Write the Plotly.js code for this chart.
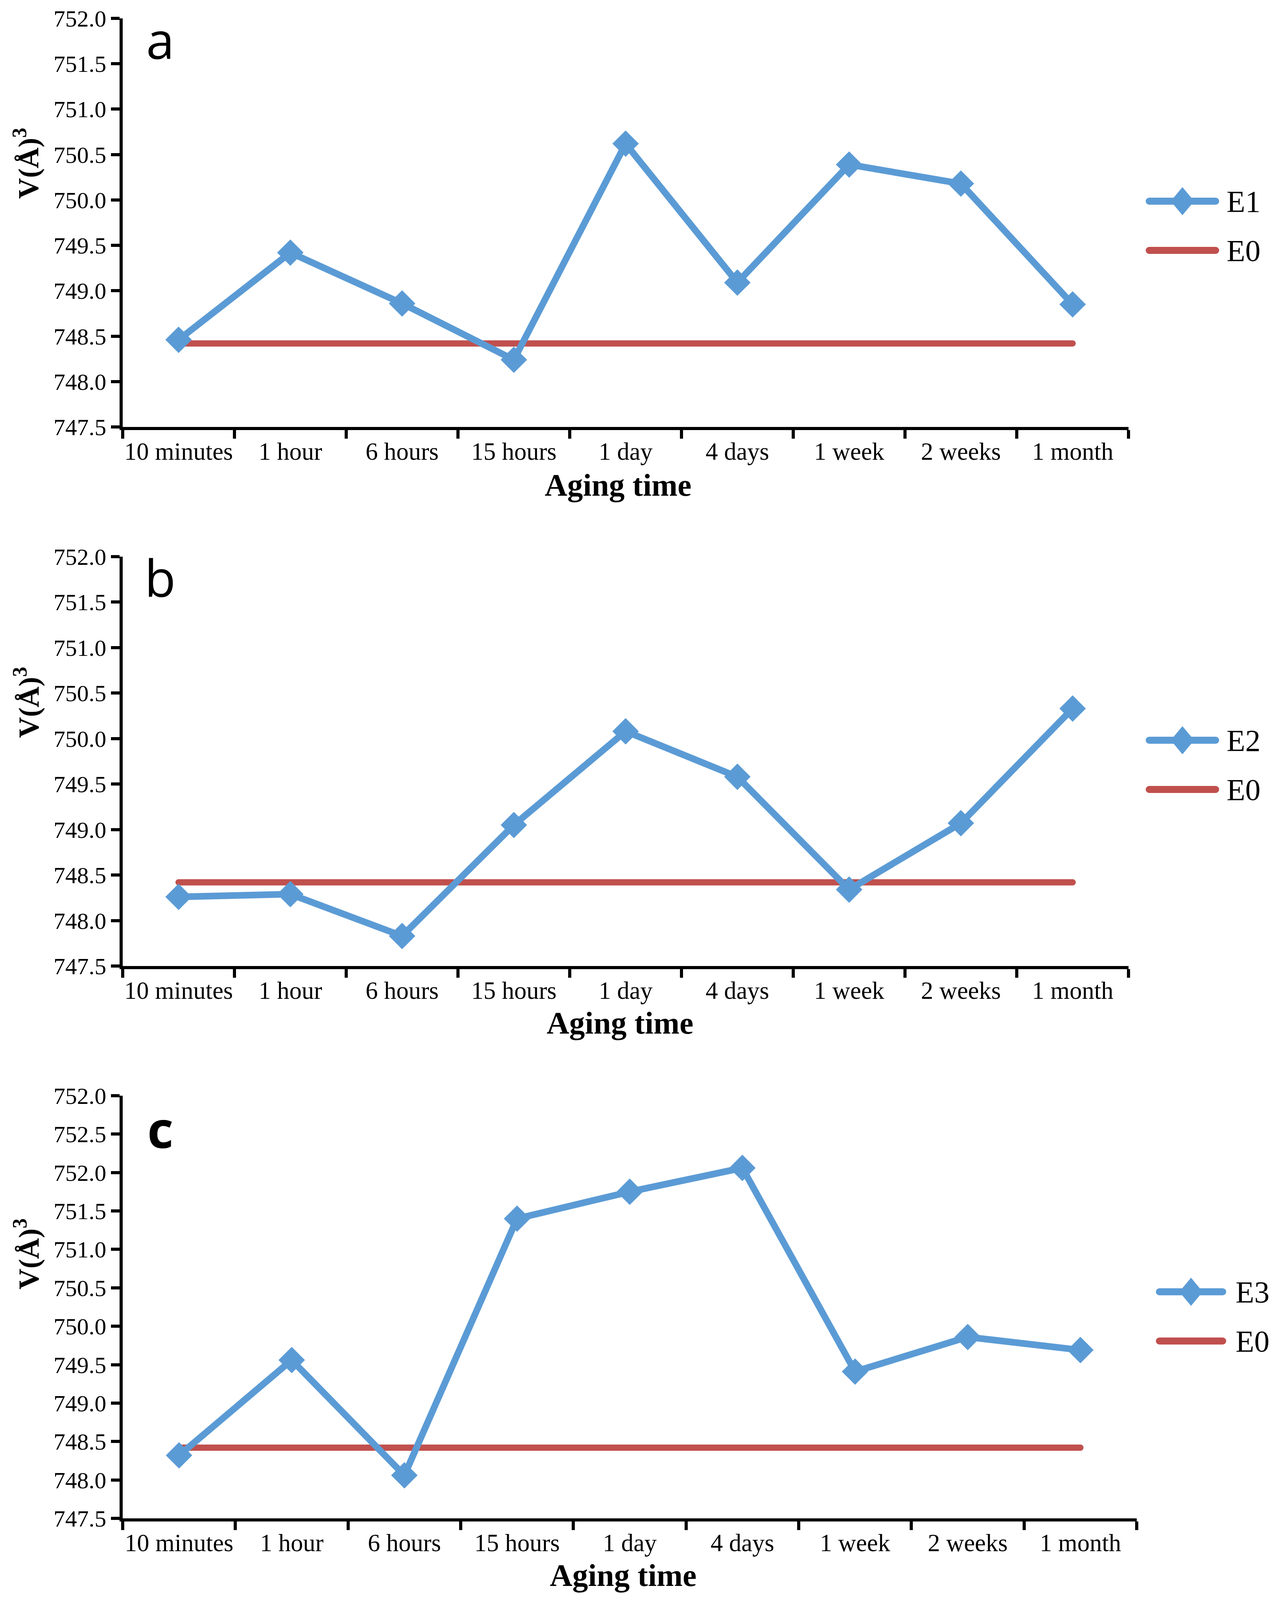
<!DOCTYPE html>
<html>
<head>
<meta charset="utf-8">
<script src="https://cdn.plot.ly/plotly-3.0.1.min.js"></script>
<style>
  html, body { margin: 0; padding: 0; background: #fff; }
  #plot { width: 3268px; height: 4097px; }
  #plot path.js-line { stroke-linecap: round; stroke-linejoin: round; }
  #plot .shapelayer path { stroke-linecap: round; }
</style>
</head>
<body>
<div id="plot"></div>
<script>
// Unit-cell volume vs aging time, three panels (E1, E2, E3) against E0.
const agingTimes = ["10 minutes", "1 hour", "6 hours", "15 hours", "1 day",
  "4 days", "1 week", "2 weeks", "1 month"];

const E1 = [748.46, 749.42, 748.86, 748.24, 750.62, 749.09, 750.39, 750.18, 748.85];
const E2 = [748.26, 748.29, 747.83, 749.05, 750.08, 749.58, 748.34, 749.07, 750.33];
const E3 = [748.32, 749.56, 748.06, 751.40, 751.75, 752.06, 749.41, 749.86, 749.69];
const E0 = [748.42, 748.42, 748.42, 748.42, 748.42, 748.42, 748.42, 748.42, 748.42];

const yTicksAB = [747.5, 748.0, 748.5, 749.0, 749.5, 750.0, 750.5, 751.0, 751.5, 752.0];
const yTextAB = ["747.5", "748.0", "748.5", "749.0", "749.5", "750.0", "750.5",
  "751.0", "751.5", "752.0"];
const yTicksC = [747.5, 748.0, 748.5, 749.0, 749.5, 750.0, 750.5, 751.0, 751.5,
  752.0, 752.5, 753.0];
// the top label really reads 752.0 in the original figure
const yTextC = ["747.5", "748.0", "748.5", "749.0", "749.5", "750.0", "750.5",
  "751.0", "751.5", "752.0", "752.5", "752.0"];

const BLUE = "#5b9bd5";
const RED = "#c0504d";
const SERIF = "Liberation Serif, Times New Roman, serif";
const W = 3268, H = 4097;
const px = (x) => x / W;
const py = (y) => 1 - y / H;

const panels = [
  { name: "E1", vals: E1, top: 47, bottom: 1093, right: 2888, label: "a",
    range: [747.5, 752.0], tv: yTicksAB, tt: yTextAB,
    labelY: 100, vTitleY: 418, aTitleY: 1242, legY: 515,
    legX0: 2941, legX1: 3111, legText: 3137, aTitleX: 1582 },
  { name: "E2", vals: E2, top: 1425, bottom: 2473, right: 2888, label: "b",
    range: [747.5, 752.0], tv: yTicksAB, tt: yTextAB,
    labelY: 1477, vTitleY: 1798, aTitleY: 2619, legY: 1895,
    legX0: 2941, legX1: 3111, legText: 3137, aTitleX: 1587 },
  { name: "E3", vals: E3, top: 2805, bottom: 3887, right: 2909, label: "c",
    range: [747.5, 753.0], tv: yTicksC, tt: yTextC,
    labelY: 2888, vTitleY: 3210, aTitleY: 4033, legY: 3307,
    legX0: 2967, legX1: 3129, legText: 3160, aTitleX: 1595 },
];

const traces = [];
const layout = {
  width: W, height: H, autosize: false,
  margin: { l: 0, r: 0, t: 0, b: 0 },
  paper_bgcolor: "#fff", plot_bgcolor: "#fff",
  showlegend: false,
  font: { family: SERIF, color: "#000" },
  annotations: [], shapes: [],
};

panels.forEach((p, k) => {
  const n = k === 0 ? "" : String(k + 1);
  const xa = "x" + n, ya = "y" + n;

  traces.push({
    type: "scatter", mode: "lines", x: agingTimes, y: E0, name: "E0",
    line: { color: RED, width: 16 }, xaxis: xa, yaxis: ya, cliponaxis: false,
  });
  traces.push({
    type: "scatter", mode: "lines+markers", x: agingTimes, y: p.vals, name: p.name,
    line: { color: BLUE, width: 17 },
    marker: { symbol: "diamond", size: 52, color: BLUE },
    xaxis: xa, yaxis: ya, cliponaxis: false,
  });

  layout["xaxis" + n] = {
    domain: [px(314), px(p.right)], anchor: ya,
    type: "category", categoryorder: "array", categoryarray: agingTimes,
    range: [-0.5, 8.5], tickson: "boundaries", tickangle: 0,
    ticks: "outside", ticklen: 22, tickwidth: 8, tickcolor: "#000",
    showline: true, linewidth: 8, linecolor: "#000",
    showgrid: false, zeroline: false, fixedrange: true,
    tickfont: { family: SERIF, size: 63, color: "#000" },
  };
  layout["yaxis" + n] = {
    domain: [py(p.bottom), py(p.top)], anchor: xa,
    range: p.range, tickmode: "array", tickvals: p.tv, ticktext: p.tt,
    ticks: "outside", ticklen: 22, tickwidth: 8, tickcolor: "#000",
    showline: true, linewidth: 8, linecolor: "#000",
    showgrid: false, zeroline: false, fixedrange: true,
    tickfont: { family: SERIF, size: 60, color: "#000" },
  };

  // panel letter
  layout.annotations.push({
    xref: "paper", yref: "paper", x: px(410), y: py(p.labelY),
    text: p.label, showarrow: false, xanchor: "center", yanchor: "middle",
    font: { family: "Open Sans, sans-serif", size: 130, color: "#000",
      weight: k === 2 ? 700 : 400 },
  });
  // y title
  layout.annotations.push({
    xref: "paper", yref: "paper", x: px(68), y: py(p.vTitleY),
    text: "<b>V(Å)<sup>3</sup></b>", textangle: -90, showarrow: false,
    xanchor: "center", yanchor: "middle",
    font: { family: SERIF, size: 74, color: "#000" },
  });
  // x title
  layout.annotations.push({
    xref: "paper", yref: "paper", x: px(p.aTitleX), y: py(p.aTitleY),
    text: "<b>Aging time</b>", showarrow: false,
    xanchor: "center", yanchor: "middle",
    font: { family: SERIF, size: 80, color: "#000" },
  });

  // legend (drawn by hand so the keys match the long line samples)
  const yA = py(p.legY), yB = py(p.legY + 126);
  const xm = (p.legX0 + p.legX1) / 2;
  layout.shapes.push({
    type: "line", xref: "paper", yref: "paper",
    x0: px(p.legX0), x1: px(p.legX1), y0: yA, y1: yA,
    line: { color: BLUE, width: 18 },
  });
  layout.shapes.push({
    type: "path", xref: "paper", yref: "paper",
    path: `M ${px(xm - 30)} ${yA} L ${px(xm)} ${py(p.legY - 36)} L ${px(xm + 30)} ${yA} L ${px(xm)} ${py(p.legY + 36)} Z`,
    fillcolor: BLUE, line: { width: 0 },
  });
  layout.shapes.push({
    type: "line", xref: "paper", yref: "paper",
    x0: px(p.legX0), x1: px(p.legX1), y0: yB, y1: yB,
    line: { color: RED, width: 18 },
  });
  layout.annotations.push({
    xref: "paper", yref: "paper", x: px(p.legText), y: yA,
    text: p.name, showarrow: false, xanchor: "left", yanchor: "middle",
    font: { family: SERIF, size: 78, color: "#000" },
  });
  layout.annotations.push({
    xref: "paper", yref: "paper", x: px(p.legText), y: yB,
    text: "E0", showarrow: false, xanchor: "left", yanchor: "middle",
    font: { family: SERIF, size: 78, color: "#000" },
  });
});

Plotly.newPlot("plot", traces, layout, { displayModeBar: false, staticPlot: true });
</script>
</body>
</html>
